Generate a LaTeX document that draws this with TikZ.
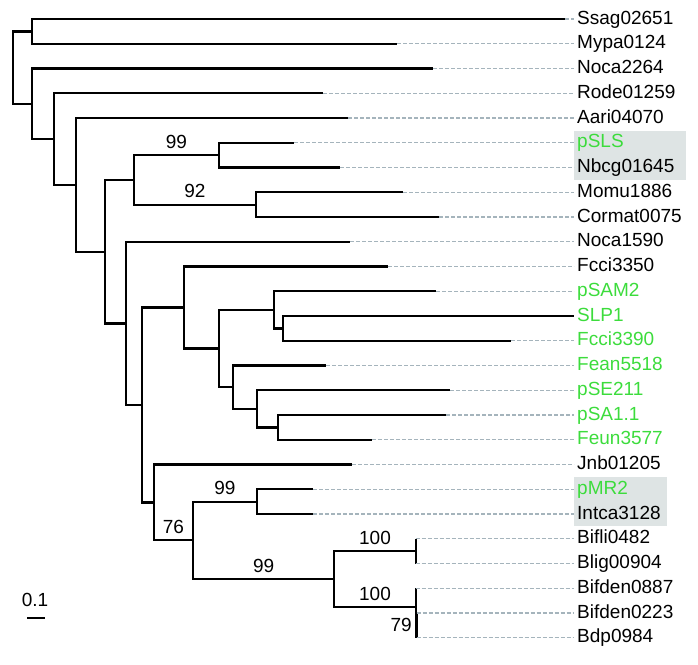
\documentclass[tikz,border=0pt]{standalone}
\usepackage{fontspec}
\setmainfont{Liberation Sans}
\usetikzlibrary{positioning,backgrounds}

\definecolor{plasmid}{RGB}{60,220,60}
\definecolor{guidegray}{RGB}{165,180,188}
\definecolor{hlgray}{RGB}{222,228,228}

\begin{document}
\begin{tikzpicture}[
    x=1pt, y=-1pt,
    branch/.style={draw, line width=2.2pt},
    guide/.style={draw=guidegray, line width=1.4pt, dash pattern=on 4pt off 2pt},
    leaf/.style={anchor=west, inner sep=3pt, text height=14pt, text depth=4pt, font=\fontsize{19}{22}\selectfont},
    pleaf/.style={leaf, text=plasmid},
    bootstrap/.style={inner sep=0.5pt, font=\fontsize{19}{22}\selectfont},
    hlbox/.style={fill=hlgray, draw=none}
]
    \useasboundingbox (0,0) rectangle (698,664);

    % leaves
    \node[leaf]  (ssag)   at (574,19.00)  {Ssag02651};
    \node[leaf]  (mypa)   at (574,43.75)  {Mypa0124};
    \node[leaf]  (noca1)  at (574,68.50)  {Noca2264};
    \node[leaf]  (rode)   at (574,93.25)  {Rode01259};
    \node[leaf]  (aari)   at (574,118.00) {Aari04070};
    \node[pleaf] (psls)   at (574,142.75) {pSLS};
    \node[leaf]  (nbcg)   at (574,167.50) {Nbcg01645};
    \node[leaf]  (momu)   at (574,192.25) {Momu1886};
    \node[leaf]  (cormat) at (574,217.00) {Cormat0075};
    \node[leaf]  (noca2)  at (574,241.75) {Noca1590};
    \node[leaf]  (fcci1)  at (574,266.50) {Fcci3350};
    \node[pleaf] (psam)   at (574,291.25) {pSAM2};
    \node[pleaf] (slp)    at (574,316.00) {SLP1};
    \node[pleaf] (fcci2)  at (574,340.75) {Fcci3390};
    \node[pleaf] (fean)   at (574,365.50) {Fean5518};
    \node[pleaf] (pse)    at (574,390.25) {pSE211};
    \node[pleaf] (psa)    at (574,415.00) {pSA1.1};
    \node[pleaf] (feun)   at (574,439.75) {Feun3577};
    \node[leaf]  (jnb)    at (574,464.50) {Jnb01205};
    \node[pleaf] (pmr)    at (574,489.25) {pMR2};
    \node[leaf]  (intca)  at (574,514.00) {Intca3128};
    \node[leaf]  (bifli)  at (574,538.75) {Bifli0482};
    \node[leaf]  (blig)   at (574,563.50) {Blig00904};
    \node[leaf]  (bifd1)  at (574,588.25) {Bifden0887};
    \node[leaf]  (bifd2)  at (574,613.00) {Bifden0223};
    \node[leaf]  (bdp)    at (574,637.75) {Bdp0984};

    % highlighted pairs
    \begin{scope}[on background layer]
        \fill[hlgray] (psls.north west) rectangle ([xshift=8pt]nbcg.south east);
        \fill[hlgray] (pmr.north west) rectangle ([xshift=3pt]intca.south east);
    \end{scope}

    % internal nodes
    \coordinate (root) at (13.3,67.6);
    \coordinate (nA) at (32.3,31.4);
    \coordinate (nB) at (32.3,103.8);
    \coordinate (nC) at (54,139);
    \coordinate (nD) at (76,184.8);
    \coordinate (nE) at (105,251.6);
    \coordinate (nF) at (134,179.9);
    \coordinate (nH) at (219,155.1);
    \coordinate (nI) at (255.7,204.6);
    \coordinate (nG) at (126,323.4);
    \coordinate (nJ) at (142,405);
    \coordinate (nK) at (183.7,307.5);
    \coordinate (nL) at (219.3,348.5);
    \coordinate (nM) at (274.3,309.8);
    \coordinate (nN) at (282.7,328.4);
    \coordinate (nO) at (233.3,387.2);
    \coordinate (nP) at (256.7,408.8);
    \coordinate (nQ) at (278.3,427.4);
    \coordinate (nR) at (153.7,502.4);
    \coordinate (nS) at (193,540.3);
    \coordinate (nT) at (256.7,501.6);
    \coordinate (nU) at (334.3,579);
    \coordinate (nV) at (415.7,551.1);
    \coordinate (nW) at (415.7,606.8);
    \coordinate (nX) at (416.5,625.4);

    % branch tips
    \coordinate (ssag-t)   at (565,19.00);
    \coordinate (mypa-t)   at (397,43.75);
    \coordinate (noca1-t)  at (433,68.50);
    \coordinate (rode-t)   at (323,93.25);
    \coordinate (aari-t)   at (348,118.00);
    \coordinate (psls-t)   at (294,142.75);
    \coordinate (nbcg-t)   at (340,167.50);
    \coordinate (momu-t)   at (403,192.25);
    \coordinate (cormat-t) at (439,217.00);
    \coordinate (noca2-t)  at (350,241.75);
    \coordinate (fcci1-t)  at (388,266.50);
    \coordinate (psam-t)   at (436,291.25);
    \coordinate (fcci2-t)  at (511,340.75);
    \coordinate (fean-t)   at (326,365.50);
    \coordinate (pse-t)    at (450,390.25);
    \coordinate (psa-t)    at (446,415.00);
    \coordinate (feun-t)   at (372,439.75);
    \coordinate (jnb-t)    at (352,464.50);
    \coordinate (pmr-t)    at (313,489.25);
    \coordinate (intca-t)  at (313,514.00);
    \coordinate (bifli-t)  at (415.7,538.75);
    \coordinate (blig-t)   at (415.7,563.50);
    \coordinate (bifd1-t)  at (415.7,588.25);
    \coordinate (bifd2-t)  at (416.5,613.00);
    \coordinate (bdp-t)    at (416.5,637.75);

    % tree
    \draw[branch] (root) |- (nA);
    \draw[branch] (root) |- (nB);
    \draw[branch] (nA) |- (ssag-t);
    \draw[branch] (nA) |- (mypa-t);
    \draw[branch] (nB) |- (noca1-t);
    \draw[branch] (nB) |- (nC);
    \draw[branch] (nC) |- (rode-t);
    \draw[branch] (nC) |- (nD);
    \draw[branch] (nD) |- (aari-t);
    \draw[branch] (nD) |- (nE);
    \draw[branch] (nE) |- (nF);
    \draw[branch] (nE) |- (nG);
    \draw[branch] (nF) |- node[bootstrap, pos=0.75, above=5pt] (bs-psls) {99} (nH);
    \draw[branch] (nF) |- node[bootstrap, pos=0.75, above=5pt] (bs-momu) {92} (nI);
    \draw[branch] (nH) |- (psls-t);
    \draw[branch] (nH) |- (nbcg-t);
    \draw[branch] (nI) |- (momu-t);
    \draw[branch] (nI) |- (cormat-t);
    \draw[branch] (nG) |- (noca2-t);
    \draw[branch] (nG) |- (nJ);
    \draw[branch] (nJ) |- (nK);
    \draw[branch] (nJ) |- (nR);
    \draw[branch] (nK) |- (fcci1-t);
    \draw[branch] (nK) |- (nL);
    \draw[branch] (nL) |- (nM);
    \draw[branch] (nL) |- (nO);
    \draw[branch] (nM) |- (psam-t);
    \draw[branch] (nM) |- (nN);
    \draw[branch] (nN) |- (slp);
    \draw[branch] (nN) |- (fcci2-t);
    \draw[branch] (nO) |- (fean-t);
    \draw[branch] (nO) |- (nP);
    \draw[branch] (nP) |- (pse-t);
    \draw[branch] (nP) |- (nQ);
    \draw[branch] (nQ) |- (psa-t);
    \draw[branch] (nQ) |- (feun-t);
    \draw[branch] (nR) |- (jnb-t);
    \draw[branch] (nR) |- node[bootstrap, pos=0.75, above=5pt] (bs-bifido) {76} (nS);
    \draw[branch] (nS) |- node[bootstrap, pos=0.75, above=5pt] (bs-pmr) {99} (nT);
    \draw[branch] (nS) |- node[bootstrap, pos=0.75, above=5pt] (bs-bif) {99} (nU);
    \draw[branch] (nT) |- (pmr-t);
    \draw[branch] (nT) |- (intca-t);
    \draw[branch] (nU) |- node[bootstrap, pos=0.75, above=5pt] (bs-bifli) {100} (nV);
    \draw[branch] (nU) |- node[bootstrap, pos=0.75, above=5pt] (bs-bifden) {100} (nW);
    \draw[branch] (nV) |- (bifli-t);
    \draw[branch] (nV) |- (blig-t);
    \draw[branch] (nW) |- (bifd1-t);
    \draw[branch] (nW) |- (nX);
    \draw[branch] (nX) |- (bifd2-t);
    \draw[branch] (nX) |- (bdp-t);
    \node[bootstrap, left=4pt of nX] (bs-bdp) {79};

    % dashed guides to the labels
    \draw[guide] (ssag-t) -- (ssag);
    \draw[guide] (mypa-t) -- (mypa);
    \draw[guide] (noca1-t) -- (noca1);
    \draw[guide] (rode-t) -- (rode);
    \draw[guide] (aari-t) -- (aari);
    \draw[guide] (psls-t) -- (psls);
    \draw[guide] (nbcg-t) -- (nbcg);
    \draw[guide] (momu-t) -- (momu);
    \draw[guide] (cormat-t) -- (cormat);
    \draw[guide] (noca2-t) -- (noca2);
    \draw[guide] (fcci1-t) -- (fcci1);
    \draw[guide] (psam-t) -- (psam);
    \draw[guide] (fcci2-t) -- (fcci2);
    \draw[guide] (fean-t) -- (fean);
    \draw[guide] (pse-t) -- (pse);
    \draw[guide] (psa-t) -- (psa);
    \draw[guide] (feun-t) -- (feun);
    \draw[guide] (jnb-t) -- (jnb);
    \draw[guide] (pmr-t) -- (pmr);
    \draw[guide] (intca-t) -- (intca);
    \draw[guide] (bifli-t) -- (bifli);
    \draw[guide] (blig-t) -- (blig);
    \draw[guide] (bifd1-t) -- (bifd1);
    \draw[guide] (bifd2-t) -- (bifd2);
    \draw[guide] (bdp-t) -- (bdp);

    % scale bar
    \node[bootstrap] (scale) at (35,600) {0.1};
    \coordinate (bar-l) at (27.3,618.3);
    \coordinate (bar-r) at (45,618.3);
    \draw[branch, line width=2pt] (bar-l) -- (bar-r);
\end{tikzpicture}
\end{document}
